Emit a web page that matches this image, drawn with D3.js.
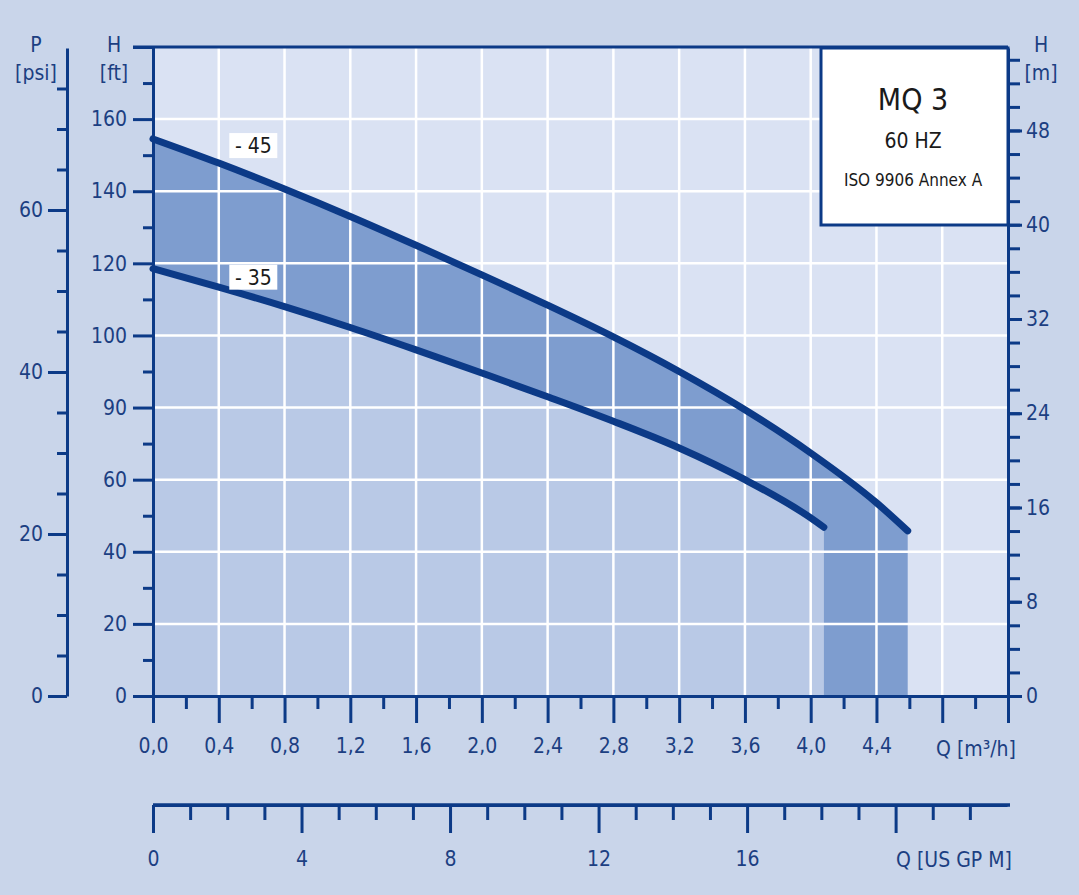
<!DOCTYPE html>
<html>
<head>
<meta charset="utf-8">
<script src="https://cdn.jsdelivr.net/npm/d3@7"></script>
<style>
	body { margin: 0; background: #c9d5ea; }
	text { font-family: "Liberation Sans Narrow", "DejaVu Sans Condensed", sans-serif; }
	.tick_text { fill: #1c3f82; font-size: 21px; }
</style>
</head>
<body>
<div id="chart"></div>
<script>
// flow in m3/h, head in ft
var flow45 = [0.0, 0.4, 0.8, 1.2, 1.6, 2.0, 2.4, 2.8, 3.2, 3.6, 4.0, 4.4, 4.59];
var head45 = [154.5, 147.8, 140.6, 133.0, 125.0, 116.8, 108.4, 99.6, 90.0, 79.4, 67.4, 53.6, 45.8];
var flow35 = [0.0, 0.4, 0.8, 1.2, 1.6, 2.0, 2.4, 2.8, 3.2, 3.6, 4.0, 4.08];
var head35 = [118.5, 113.4, 108.0, 102.2, 96.0, 89.6, 83.0, 76.2, 68.8, 60.0, 49.4, 46.8];

var ftTicks = [0, 20, 40, 60, 80, 100, 120, 140, 160, 180];
var ftLabels = ["0", "20", "40", "60", "90", "100", "120", "140", "160", ""];
var psiTicks = [0, 20, 40, 60];
var mTicks = [0, 8, 16, 24, 32, 40, 48];
var flowTicks = [0, 0.4, 0.8, 1.2, 1.6, 2.0, 2.4, 2.8, 3.2, 3.6, 4.0, 4.4, 4.8, 5.2];
var flowLabels = ["0,0", "0,4", "0,8", "1,2", "1,6", "2,0", "2,4", "2,8", "3,2", "3,6", "4,0", "4,4", "", ""];
var gpmTicks = [0, 4, 8, 12, 16, 20];
var gpmLabels = ["0", "4", "8", "12", "16", ""];
var titleLines = ["MQ 3", "60 HZ", "ISO 9906 Annex A"];

var chartW = 1079, chartH = 895,
	plotL = 153, plotR = 1008, plotT = 47, plotB = 696,
	navy = "#0c3a87";

var x = d3.scaleLinear().domain([0, 5.2]).range([plotL, plotR]);
var y = d3.scaleLinear().domain([0, 180]).range([plotB, plotT]);
var yPsi = d3.scaleLinear().domain([0, 80]).range([plotB, 48]);
var yM = d3.scaleLinear().domain([0, 55]).range([plotB, 48]);
var xGpm = d3.scaleLinear().domain([0, 23]).range([plotL, 1007]);

var svg = d3.select("#chart").append("svg")
	.attr("width", chartW)
	.attr("height", chartH);

svg.append("rect").attr("width", chartW).attr("height", chartH).style("fill", "#c9d5ea");
svg.append("rect")
	.attr("x", plotL).attr("y", plotT)
	.attr("width", plotR - plotL).attr("height", plotB - plotT)
	.style("fill", "#dae2f3");

var pts45 = flow45.map(function(d, i) { return [d, head45[i]]; });
var pts35 = flow35.map(function(d, i) { return [d, head35[i]]; });

var curve = d3.line()
	.x(function(d) { return x(d[0]); })
	.y(function(d) { return y(d[1]); })
	.curve(d3.curveMonotoneX);

// light area under the -35 curve
var under = d3.area()
	.x(function(d) { return x(d[0]); })
	.y0(y(0))
	.y1(function(d) { return y(d[1]); })
	.curve(d3.curveMonotoneX);
svg.append("path").attr("d", under(pts35)).style("fill", "#b9c9e6");

// band between the curves, down to zero past the end of -35
var last35 = flow35[flow35.length - 1], last45 = flow45[flow45.length - 1];
var band = curve(pts45)
	+ "L" + x(last45) + "," + y(0)
	+ "L" + x(last35) + "," + y(0)
	+ curve(pts35.slice().reverse()).replace(/^M/, "L") + "Z";
svg.append("path").attr("d", band).style("fill", "#7e9dcf");

// white grid
svg.selectAll(".vgrid")
	.data(d3.range(1, 13).map(function(i) { return i * 0.4; }))
	.enter().append("line")
	.attr("x1", function(d) { return x(d); }).attr("x2", function(d) { return x(d); })
	.attr("y1", plotT).attr("y2", plotB)
	.style("stroke", "#fff").style("stroke-width", 2.5);
svg.selectAll(".hgrid")
	.data(ftTicks.slice(1, -1))
	.enter().append("line")
	.attr("x1", plotL).attr("x2", plotR)
	.attr("y1", function(d) { return y(d); }).attr("y2", function(d) { return y(d); })
	.style("stroke", "#fff").style("stroke-width", 2.5);

[pts45, pts35].forEach(function(p) {
	svg.append("path")
		.attr("d", curve(p))
		.style("fill", "none")
		.style("stroke", navy)
		.style("stroke-width", 7)
		.style("stroke-linecap", "round");
});

// curve tags
[["- 45", 0.61, 152.8], ["- 35", 0.61, 116.3]].forEach(function(t) {
	var g = svg.append("g").attr("transform", "translate(" + x(t[1]) + "," + y(t[2]) + ")");
	g.append("rect").attr("x", -24).attr("y", -12).attr("width", 48).attr("height", 25).style("fill", "#fff");
	g.append("text").attr("text-anchor", "middle").attr("dy", 8)
		.style("font-size", "21px").style("fill", "#1a1a1a").text(t[0]);
});

// title box
svg.append("rect")
	.attr("x", 821).attr("y", plotT + 1).attr("width", plotR - 821).attr("height", 177)
	.style("fill", "#fff").style("stroke", navy).style("stroke-width", 3);
svg.selectAll(".title")
	.data(titleLines)
	.enter().append("text")
	.attr("x", 913)
	.attr("y", function(d, i) { return [110, 148, 186][i]; })
	.attr("text-anchor", "middle")
	.style("font-size", function(d, i) { return ["30px", "21px", "17px"][i]; })
	.style("fill", "#1a1a1a")
	.text(function(d) { return d; });

function styleAxis(g) {
	g.selectAll("path, line").style("stroke", navy).style("stroke-width", 3);
	g.selectAll("text").attr("class", "tick_text");
}

function minor(g, axis) {
	g.call(axis.tickFormat("")).selectAll("path").remove();
	g.selectAll("line").style("stroke", navy).style("stroke-width", 3);
}

// left ft axis
svg.append("g").attr("transform", "translate(" + plotL + ",0)")
	.call(function(g) { minor(g, d3.axisLeft(y).tickValues(d3.range(10, 180, 20)).tickSize(10)); });
svg.append("g").attr("transform", "translate(" + plotL + ",0)")
	.call(d3.axisLeft(y).tickValues(ftTicks).tickSize(20).tickSizeOuter(0).tickPadding(6)
		.tickFormat(function(d, i) { return ftLabels[i]; }))
	.call(styleAxis);

// psi axis
svg.append("g").attr("transform", "translate(67,0)")
	.call(function(g) { minor(g, d3.axisLeft(yPsi).tickValues(d3.range(5, 80, 5)).tickSize(10)); });
svg.append("g").attr("transform", "translate(67,0)")
	.call(d3.axisLeft(yPsi).tickValues(psiTicks).tickSize(19).tickSizeOuter(0).tickPadding(5))
	.call(styleAxis);

// right m axis
svg.append("g").attr("transform", "translate(" + plotR + ",0)")
	.call(function(g) { minor(g, d3.axisRight(yM).tickValues(d3.range(2, 56, 2)).tickSize(12)); });
svg.append("g").attr("transform", "translate(" + plotR + ",0)")
	.call(d3.axisRight(yM).tickValues(mTicks).tickSize(14).tickSizeOuter(0).tickPadding(4))
	.call(styleAxis);

// flow m3/h axis
svg.append("g").attr("transform", "translate(0," + plotB + ")")
	.call(function(g) { minor(g, d3.axisBottom(x).tickValues(d3.range(1, 26, 2).map(function(i) { return i * 0.2; })).tickSize(13)); });
svg.append("g").attr("transform", "translate(0," + plotB + ")")
	.call(d3.axisBottom(x).tickValues(flowTicks).tickSize(27).tickSizeOuter(0).tickPadding(15)
		.tickFormat(function(d, i) { return flowLabels[i]; }))
	.call(styleAxis);

// flow US GPM axis
svg.append("g").attr("transform", "translate(0,805)")
	.call(function(g) { minor(g, d3.axisBottom(xGpm).tickValues(d3.range(1, 23).filter(function(d) { return d % 4; })).tickSize(15)); });
svg.append("g").attr("transform", "translate(0,805)")
	.call(d3.axisBottom(xGpm).tickValues(gpmTicks).tickSize(28).tickSizeOuter(0).tickPadding(18)
		.tickFormat(function(d, i) { return gpmLabels[i]; }))
	.call(styleAxis);
svg.append("line").attr("x1", plotL).attr("x2", 1010).attr("y1", 805).attr("y2", 805)
	.style("stroke", navy).style("stroke-width", 3.5);

// top border
svg.append("line").attr("x1", 133).attr("x2", plotR).attr("y1", plotT).attr("y2", plotT)
	.style("stroke", navy).style("stroke-width", 3);

// axis titles
var titles = [
	[36, 52, "P"], [36, 80, "[psi]"],
	[114, 52, "H"], [114, 80, "[ft]"],
	[1041, 52, "H"], [1041, 80, "[m]"],
	[976, 756, "Q [m³/h]"], [954, 867, "Q [US GP M]"]
];
svg.selectAll(".axis_title")
	.data(titles)
	.enter().append("text")
	.attr("class", "tick_text")
	.attr("x", function(d) { return d[0]; })
	.attr("y", function(d) { return d[1]; })
	.attr("text-anchor", "middle")
	.text(function(d) { return d[2]; });
</script>
</body>
</html>
